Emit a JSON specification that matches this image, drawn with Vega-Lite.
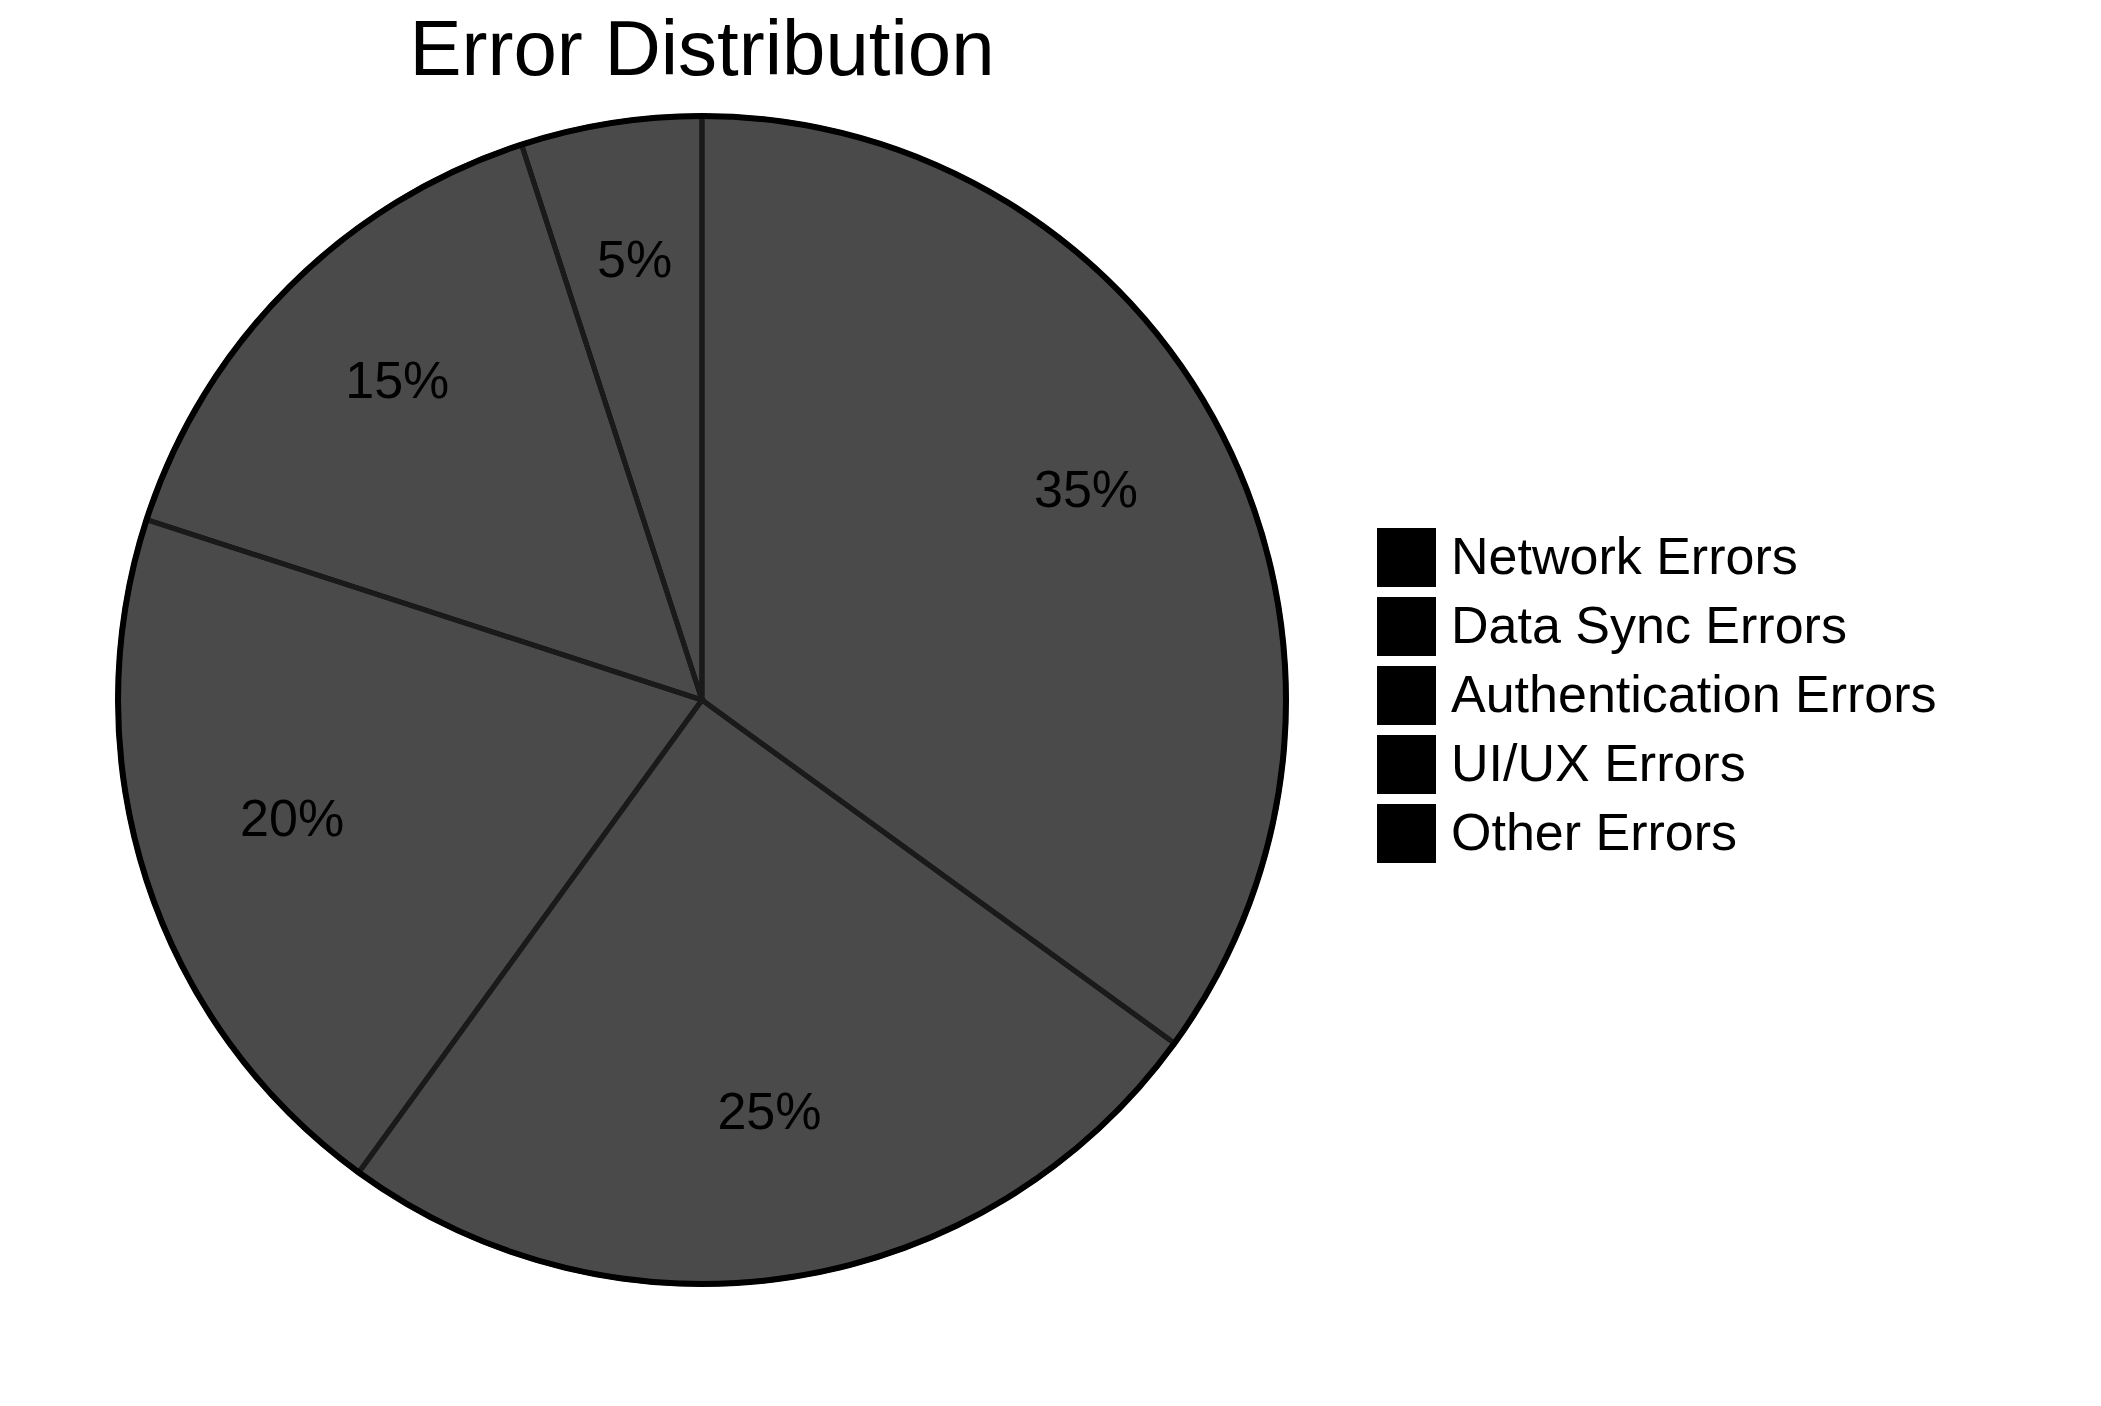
{
  "$schema": "https://vega.github.io/schema/vega-lite/v6.json",
  "width": 1404,
  "height": 1200,
  "autosize": {"type": "none"},
  "padding": {"top": 100, "left": 0, "right": 697, "bottom": 106},
  "background": "white",
  "view": {"stroke": null},
  "title": {"text": "Error Distribution", "fontSize": 78, "font": "Liberation Sans", "fontWeight": "normal", "color": "black", "baseline": "alphabetic", "offset": 20, "dy": 73, "anchor": "middle"},
  "data": {"values": [
    {"category": "Network Errors", "value": 35, "label": "35%", "order": 1},
    {"category": "Data Sync Errors", "value": 25, "label": "25%", "order": 2},
    {"category": "Authentication Errors", "value": 20, "label": "20%", "order": 3},
    {"category": "UI/UX Errors", "value": 15, "label": "15%", "order": 4},
    {"category": "Other Errors", "value": 5, "label": "5%", "order": 5}
  ]},
  "encoding": {
    "theta": {"field": "value", "type": "quantitative", "stack": true},
    "order": {"field": "order", "type": "quantitative"}
  },
  "layer": [
    {
      "mark": {"type": "arc", "outerRadius": 584, "fillOpacity": 0.71, "stroke": "#1a1a1a", "strokeWidth": 5},
      "encoding": {
        "color": {
          "field": "category", "type": "nominal", "sort": null,
          "scale": {"range": ["#000000", "#000000", "#000000", "#000000", "#000000"]},
          "legend": {
            "title": null, "orient": "none", "legendX": 1377, "legendY": 428,
            "symbolType": "square", "symbolSize": 3481, "symbolStrokeWidth": 0,
            "symbolOpacity": 1, "symbolFillColor": "#000000",
            "labelFontSize": 52, "labelFont": "Liberation Sans", "labelColor": "black",
            "labelOffset": 15, "rowPadding": 10, "labelLimit": 1000
          }
        }
      }
    },
    {
      "mark": {"type": "arc", "innerRadius": 581, "outerRadius": 587, "fill": "#000000", "strokeWidth": 0},
      "encoding": {}
    },
    {
      "mark": {"type": "text", "radius": 431, "dy": -13, "fontSize": 52, "font": "Liberation Sans", "color": "black", "baseline": "middle", "align": "center"},
      "encoding": {"text": {"field": "label", "type": "nominal"}}
    }
  ]
}
